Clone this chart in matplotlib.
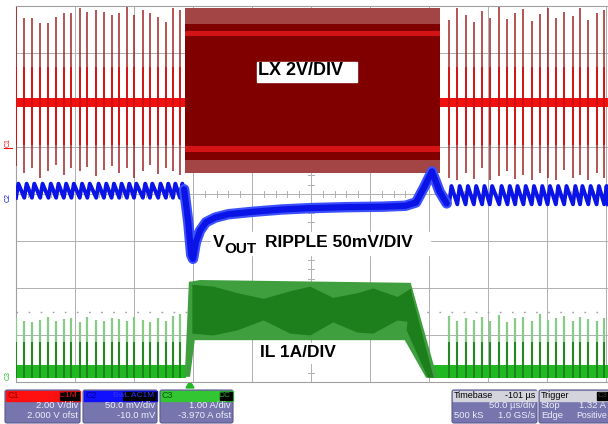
import matplotlib
matplotlib.use("Agg")
import matplotlib.pyplot as plt
from matplotlib.patches import Rectangle, FancyBboxPatch, Polygon

plt.rcParams['font.family'] = ['Liberation Sans', 'DejaVu Sans']

# ---- scope data, time in divisions (0..10), level in divisions (0..8) ----
pulse_t_left = [0.00, 0.14, 0.27, 0.41, 0.55, 0.68, 0.81, 0.94, 1.08, 1.21, 1.36,
                1.49, 1.62, 1.75, 1.88, 2.00, 2.15, 2.27, 2.41, 2.54, 2.66, 2.78]
pulse_t_right = [7.34, 7.48, 7.62, 7.76, 7.90, 8.03, 8.19, 8.33, 8.46, 8.60,
                 8.74, 8.88, 9.01, 9.15, 9.29, 9.44, 9.56, 9.70, 9.84, 9.97]

# LX (CH1) spike tops / bottoms
lx_top_left = [7.98, 7.74, 7.74, 7.64, 7.64, 7.77, 7.85, 7.85, 7.96, 7.87, 7.91,
               7.87, 7.81, 7.85, 7.98, 7.81, 7.91, 7.85, 7.77, 7.66, 7.96, 7.91]
lx_top_right = [7.70, 7.95, 7.80, 7.66, 7.90, 7.75, 7.98, 7.72, 7.85, 7.93,
                7.68, 7.82, 7.96, 7.74, 7.88, 7.79, 7.95, 7.70, 7.86, 7.92]
lx_bot_left = [4.60, 4.45, 4.55, 4.35, 4.50, 4.62, 4.40, 4.55, 4.48, 4.58, 4.38,
               4.52, 4.60, 4.45, 4.55, 4.35, 4.50, 4.62, 4.42, 4.55, 4.48, 4.40]
lx_bot_right = [4.35, 4.30, 4.45, 4.32, 4.55, 4.30, 4.38, 4.50, 4.32, 4.40,
                4.30, 4.45, 4.35, 4.30, 4.52, 4.33, 4.40, 4.30, 4.45, 4.35]
lx_idle = (5.85, 6.04)          # ringing band between pulses
lx_burst_t = (2.86, 7.19)       # continuous switching
lx_burst_hair = (4.45, 7.96)
lx_burst_core = (4.72, 7.62)
lx_burst_bright = [(7.36, 7.47), (4.89, 5.03)]

# VOUT (CH2)
vout_left = (4.22, 3.92)        # peak, trough of ripple
vout_right = (4.17, 3.78)
vout_t = [2.85, 2.92, 2.97, 3.00, 3.05, 3.12, 3.22, 3.38, 3.60, 4.00, 4.50,
          5.00, 5.60, 6.20, 6.60, 6.78, 6.92, 7.05, 7.18, 7.30]
vout_y = [4.10, 3.40, 2.70, 2.62, 2.98, 3.22, 3.40, 3.50, 3.57, 3.62, 3.67,
          3.70, 3.72, 3.73, 3.75, 3.82, 4.15, 4.48, 4.05, 3.80]

# IL (CH3)
il_idle = (0.09, 0.36)
il_top_left = [1.36, 1.30, 1.28, 1.32, 1.38, 1.30, 1.34, 1.36, 1.28, 1.38, 1.32,
               1.30, 1.36, 1.34, 1.30, 1.38, 1.32, 1.28, 1.36, 1.30, 1.40, 1.45]
il_top_right = [1.40, 1.30, 1.36, 1.32, 1.38, 1.30, 1.42, 1.28, 1.36, 1.38,
                1.30, 1.45, 1.32, 1.36, 1.40, 1.30, 1.38, 1.34, 1.30, 1.36]
il_env_t = [2.86, 2.93, 3.12, 6.69, 7.14, 6.95, 6.59, 3.03, 2.95]
il_env_y = [0.11, 2.13, 2.17, 2.11, 0.09, 0.09, 0.89, 0.89, 0.11]
il_core_t = [2.98, 3.34, 3.75, 4.19, 4.64, 4.98, 5.37, 5.78, 6.05, 6.46, 6.69]
il_core_top = [2.08, 2.04, 1.90, 1.78, 1.94, 2.04, 1.80, 1.90, 2.00, 1.82, 2.00]
il_core_bot = [1.04, 1.00, 1.11, 1.32, 1.04, 1.00, 1.28, 1.06, 1.04, 1.32, 1.28]
il_ramp_t = [6.69, 7.08, 6.98, 6.62]
il_ramp_y = [1.96, 0.09, 0.09, 1.10]
trig_level = 1.49

RED_DK, RED, BLUE, GRN_DK, GRN, GRN_LT = '#9c1414', '#f01010', '#0a14e6', '#1c7f1c', '#22b822', '#86cc86'
XMAX = 592 / 59


def sawtooth(times, peak, trough, t_end):
    xs, ys = [], []
    for t in times:
        xs += [t, t + 0.04]
        ys += [trough, peak]
    xs.append(t_end)
    ys.append(trough)
    return xs, ys


fig = plt.figure(figsize=(6.08, 4.24), dpi=100)
pan = fig.add_axes([0, 0, 1, 1])
pan.set_xlim(0, 608)
pan.set_ylim(424, 0)
pan.axis('off')

ax = fig.add_axes([16 / 608, 42 / 424, 592 / 608, 376 / 424])
ax.set_xlim(0, XMAX)
ax.set_ylim(0, 8)
ax.set_xticks([])
ax.set_yticks([])
for s in ['top', 'left', 'bottom']:
    ax.spines[s].set_color('#a0a0a0')
    ax.spines[s].set_linewidth(0.8)
ax.spines['right'].set_visible(False)

# graticule
for k in range(1, 11):
    ax.axvline(k, color='#b0b0b0', lw=0.7, zorder=0)
for k in range(1, 8):
    ax.axhline(k, color='#b0b0b0', lw=0.7, zorder=0)
for k in range(1, 50):
    ax.plot([k * 0.2, k * 0.2], [3.93, 4.07], color='#b0b0b0', lw=0.7, zorder=0)
for k in range(1, 40):
    ax.plot([4.95, 5.05], [k * 0.2, k * 0.2], color='#b0b0b0', lw=0.7, zorder=0)
ax.axhline(trig_level, color='#a0a0a0', lw=1.0, ls=(0, (1.2, 7.5)), zorder=0)

# ---- LX ----
pulse_t = pulse_t_left + pulse_t_right
lx_top = lx_top_left + lx_top_right
lx_bot = lx_bot_left + lx_bot_right
ax.fill_between([0, lx_burst_t[0]], *lx_idle, color=RED, lw=0, zorder=2)
ax.fill_between([lx_burst_t[1], XMAX], *lx_idle, color=RED, lw=0, zorder=2)
ax.vlines(pulse_t, lx_bot, lx_top, color=RED_DK, lw=1.2, alpha=0.85, zorder=3)
ax.vlines(pulse_t, 5.05, 6.70, color='#d41010', lw=1.3, zorder=3)
ax.fill_between(lx_burst_t, *lx_burst_hair, color='#a44545', lw=0, zorder=2)
ax.fill_between(lx_burst_t, *lx_burst_core, color='#800000', lw=0, zorder=2)
for lo, hi in lx_burst_bright:
    ax.fill_between(lx_burst_t, lo, hi, color='#d41414', lw=0, zorder=2)

# ---- VOUT ----
xl, yl = sawtooth(pulse_t_left, vout_left[0], vout_left[1], vout_t[0] - 0.01)
xr, yr = sawtooth(pulse_t_right, vout_right[0], vout_right[1], XMAX)
ax.plot(xl, yl, color=BLUE, lw=2.8, zorder=4)
ax.plot(xr, yr, color=BLUE, lw=2.8, zorder=4)
ax.plot(vout_t, vout_y, color='#3c50ff', lw=7.5, solid_capstyle='round',
        solid_joinstyle='round', zorder=4)
ax.plot(vout_t, vout_y, color=BLUE, lw=4.5, solid_capstyle='round',
        solid_joinstyle='round', zorder=4)

# ---- IL ----
il_top = il_top_left + il_top_right
ax.fill_between([0, 2.88], *il_idle, color=GRN, lw=0, zorder=5)
ax.fill_between([7.05, XMAX], *il_idle, color=GRN, lw=0, zorder=5)
ax.vlines(pulse_t, il_idle[1], il_top, color=GRN_LT, lw=1.6, zorder=5)
ax.vlines(pulse_t, il_idle[0], 0.85, color=GRN_DK, lw=1.3, zorder=5)
ax.add_patch(Polygon(list(zip(il_env_t, il_env_y)), closed=True, color='#3f9f3f', lw=0, zorder=5))
ax.fill_between(il_core_t, il_core_bot, il_core_top, color=GRN_DK, lw=0, zorder=5)
ax.add_patch(Polygon(list(zip(il_ramp_t, il_ramp_y)), closed=True, color=GRN_DK, lw=0, zorder=5))

# ---- labels ----
ax.add_patch(Rectangle((4.08, 6.38), 1.70, 0.43, color='white', zorder=8))
ax.text(4.10, 6.62, 'LX 2V/DIV', fontsize=13, fontweight='bold', va='center', zorder=9)
ax.add_patch(Rectangle((3.30, 2.70), 3.72, 0.50, color='white', zorder=8))
ax.text(3.34, 2.96, 'V', fontsize=12.5, fontweight='bold', va='center', zorder=9)
ax.text(3.54, 2.82, 'OUT', fontsize=11, fontweight='bold', va='center', zorder=9)
ax.text(4.22, 2.96, 'RIPPLE 50mV/DIV', fontsize=12.5, fontweight='bold', va='center', zorder=9)
ax.add_patch(Rectangle((4.05, 0.40), 1.55, 0.43, color='white', zorder=8))
ax.text(4.14, 0.62, 'IL 1A/DIV', fontsize=12.5, fontweight='bold', va='center', zorder=9)

# channel ground markers at left edge
for txt, y, c in [('C1', 143, RED), ('C2', 198, BLUE), ('C3', 375, GRN)]:
    pan.text(8, y, txt, color=c, fontsize=5, rotation=90, ha='center', va='center')
pan.plot([4, 12], [148, 148], color=RED, lw=0.8)
pan.add_patch(Polygon([(186, 388), (194, 388), (190, 381)], closed=True, color=GRN))


# ---- readout panel ----
def box(x0, x1, head, title, tcolor, badge, bcolor, rows):
    pan.add_patch(FancyBboxPatch((x0, 390), x1 - x0, 33, boxstyle='round,pad=0,rounding_size=2',
                                 fc='#7775ae', ec='#5b5990', lw=0.8))
    pan.add_patch(Rectangle((x0 + 0.5, 390.5), x1 - x0 - 1, 10, color=head))
    pan.text(x0 + 2, 395.5, title, color=tcolor, fontsize=6.5, va='center')
    if badge:
        w = 3.6 * len(badge) + 4
        pan.add_patch(Rectangle((x1 - w - 1.5, 391.5), w, 8, color='black'))
        pan.text(x1 - 3, 395.5, badge, color=bcolor, fontsize=6, va='center', ha='right')
    for y, left, right in rows:
        if left:
            pan.text(x0 + 2, y, left, color='#eeeef8', fontsize=6.8, va='center')
        if right:
            pan.text(x1 - 2, y, right, color='#eeeef8', fontsize=6.8, va='center', ha='right')


box(5, 80, '#ff1010', 'C1', '#8a0000', 'DC1M', RED,
    [(406, '', '2.00 V/div'), (416, '', '2.000 V ofst')])
box(83, 157, '#1010ff', 'C2', '#000090', 'BwL AC1M', '#3030ff',
    [(406, '', '50.0 mV/div'), (416, '', '-10.0 mV')])
box(160, 233, '#33c633', 'C3', '#0b5a0b', 'DC', GRN,
    [(406, '', '1.00 A/div'), (416, '', '-3.970 A ofst')])
box(452, 537, '#d4d4dc', 'Timebase', 'black', '', '',
    [(406, '', '50.0 µs/div'), (416, '500 kS', '1.0 GS/s')])
pan.text(535, 395.5, '-101 µs', color='black', fontsize=6.5, va='center', ha='right')
box(539, 640, '#d4d4dc', 'Trigger', 'black', '', '',
    [(406, 'Stop', ''), (416, 'Edge', '')])
pan.add_patch(Rectangle((597, 391.5), 14, 8, color='black'))
pan.text(598, 395.5, 'C3', color='#404040', fontsize=5.5, va='center')
pan.text(606, 406, '1.32 A', color='#eeeef8', fontsize=6.8, va='center', ha='right')
pan.text(607, 416, 'Positive', color='#eeeef8', fontsize=6.3, va='center', ha='right')

fig.savefig('out.png', dpi=100)
